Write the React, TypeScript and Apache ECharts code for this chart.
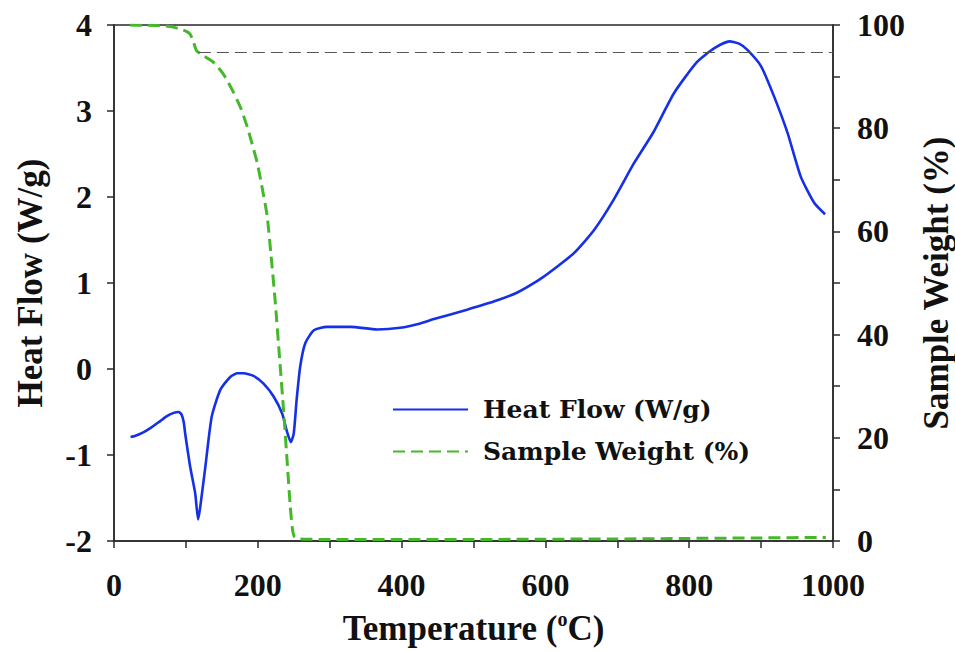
import React, { useEffect, useRef } from "react";
import * as echarts from "echarts";

const heatFlowT = [23, 29, 40, 50, 62, 73, 83, 90, 94, 97, 99, 106, 113, 117, 120, 127, 136, 148, 162, 172, 180, 194, 208, 222, 234, 240, 246, 250, 254, 259, 266, 278, 296, 329, 366, 398, 426, 445, 491, 530, 561, 590, 607, 640, 668, 695, 723, 750, 779, 811, 835, 856, 870, 881, 900, 918, 937, 955, 974, 989];
const heatFlowV = [-0.79, -0.78, -0.74, -0.69, -0.62, -0.55, -0.51, -0.5, -0.53, -0.62, -0.75, -1.14, -1.45, -1.75, -1.6, -1.14, -0.55, -0.24, -0.09, -0.05, -0.05, -0.08, -0.17, -0.32, -0.52, -0.71, -0.85, -0.75, -0.36, 0.03, 0.3, 0.45, 0.49, 0.49, 0.46, 0.48, 0.53, 0.58, 0.69, 0.79, 0.89, 1.03, 1.13, 1.35, 1.62, 1.97, 2.39, 2.75, 3.21, 3.57, 3.73, 3.81, 3.78, 3.71, 3.52, 3.17, 2.74, 2.24, 1.93, 1.8];

const weightT = [22, 40, 60, 78, 90, 100, 106, 111, 115, 125, 138, 152, 166, 176, 185, 192, 199, 206, 213, 218, 224, 230, 236, 241, 245, 248, 251, 256, 300, 400, 500, 600, 700, 800, 900, 990];
const weightV = [100, 99.95, 99.9, 99.7, 99.3, 98.8, 98.2, 96.5, 95.0, 94.0, 92.8, 90.5, 87, 84, 80.4, 77, 73.4, 68.5, 63, 56, 46.8, 36, 25, 15, 7, 2.5, 0.8, 0.4, 0.3, 0.3, 0.3, 0.35, 0.4, 0.5, 0.6, 0.7];

const refLineStartT = 118;
const refLineEndT = 1000;
const refLineWeight = 94.7;

const seriesNames = ["Heat Flow (W/g)", "Sample Weight (%)"];

const axisFont = "'Liberation Serif', 'Times New Roman', serif";
const legendFont = "'DejaVu Serif', serif";

export default function App() {
  const ref = useRef<HTMLDivElement>(null);
  useEffect(() => {
    if (!ref.current) return;
    const chart = echarts.init(ref.current, null, { renderer: "svg" });
    const axisLineStyle = { color: "#2a2a2a", width: 1.5 };
    const labelStyle = {
      fontFamily: axisFont,
      fontWeight: "bold" as const,
      fontSize: 32,
      color: "#111",
    };
    const nameStyle = {
      fontFamily: axisFont,
      fontWeight: "bold" as const,
      fontSize: 35,
      color: "#111",
    };
    chart.setOption({
      animation: false,
      backgroundColor: "#fff",
      grid: {
        left: 114,
        right: 122,
        top: 25,
        bottom: 110,
        containLabel: false,
        outerBoundsMode: "none",
        show: true,
        borderColor: "#2a2a2a",
        borderWidth: 1.5,
      },
      legend: {
        orient: "vertical",
        left: 387,
        top: 392,
        itemWidth: 75,
        itemHeight: 14,
        itemGap: 17,
        itemStyle: { opacity: 0 },
        textStyle: {
          fontFamily: legendFont,
          fontWeight: "bold",
          fontSize: 25,
          color: "#111",
          padding: [0, 0, 0, 10],
        },
        data: seriesNames,
      },
      xAxis: {
        type: "value",
        min: 0,
        max: 1000,
        interval: 100,
        splitLine: { show: false },
        axisLine: { show: true, onZero: false, lineStyle: axisLineStyle },
        axisTick: { show: true, length: 7, lineStyle: axisLineStyle },
        axisLabel: {
          ...labelStyle,
          margin: 28,
          formatter: (v: number) => (v % 200 === 0 ? String(v) : ""),
        },
        name: "{a|Temperature (}{s|o}{a|C)}",
        nameLocation: "middle",
        nameGap: 68,
        nameTextStyle: {
          rich: {
            a: { ...nameStyle },
            s: { ...nameStyle, fontSize: 20, padding: [0, 0, 18, 0] },
          },
        },
      },
      yAxis: [
        {
          type: "value",
          min: -2,
          max: 4,
          interval: 1,
          position: "left",
          splitLine: { show: false },
          axisLine: { show: true, onZero: false, lineStyle: axisLineStyle },
          axisTick: { show: true, length: 7, lineStyle: axisLineStyle },
          axisLabel: { ...labelStyle, margin: 22 },
          name: seriesNames[0],
          nameLocation: "middle",
          nameRotate: 90,
          nameGap: 66,
          nameTextStyle: nameStyle,
        },
        {
          type: "value",
          min: 0,
          max: 100,
          interval: 10,
          position: "right",
          splitLine: { show: false },
          axisLine: { show: true, onZero: false, lineStyle: axisLineStyle },
          axisTick: { show: true, length: 7, lineStyle: axisLineStyle },
          axisLabel: {
            ...labelStyle,
            margin: 24,
            formatter: (v: number) => (v % 20 === 0 ? String(v) : ""),
          },
          name: seriesNames[1],
          nameLocation: "middle",
          nameRotate: 90,
          nameGap: 86,
          nameTextStyle: nameStyle,
        },
      ],
      series: [
        {
          name: seriesNames[0],
          type: "line",
          yAxisIndex: 0,
          symbol: "none",
          smooth: 0.2,
          lineStyle: { color: "#1530e6", width: 2.6 },
          itemStyle: { color: "#1530e6" },
          data: heatFlowT.map((t, i) => [t, heatFlowV[i]]),
        },
        {
          name: seriesNames[1],
          type: "line",
          yAxisIndex: 1,
          symbol: "none",
          smooth: 0.2,
          lineStyle: { color: "#44b82a", width: 3, type: [12, 6] },
          itemStyle: { color: "#44b82a" },
          data: weightT.map((t, i) => [t, weightV[i]]),
          markLine: {
            silent: true,
            symbol: "none",
            label: { show: false },
            lineStyle: { color: "#555", width: 1.2, type: [12, 6] },
            data: [
              [
                { coord: [refLineStartT, refLineWeight] },
                { coord: [refLineEndT, refLineWeight] },
              ],
            ],
          },
        },
      ],
    });
    return () => chart.dispose();
  }, []);
  return (
    <div
      ref={ref}
      style={{ position: "absolute", left: 0, top: 0, width: 955, height: 651 }}
    />
  );
}
